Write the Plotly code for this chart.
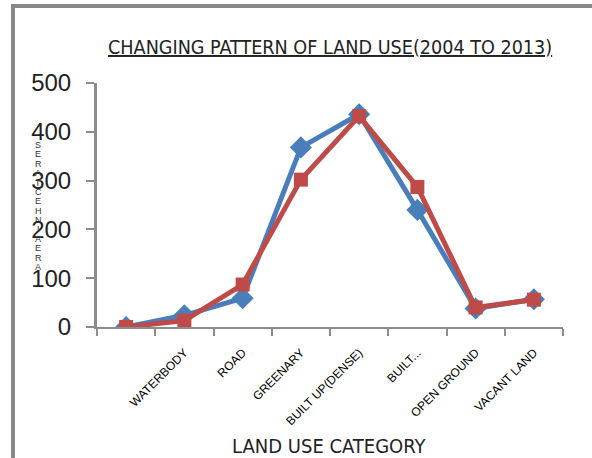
import plotly.graph_objects as go

# Land-use categories (first slot has no label)
categories = ["", "WATERBODY", "ROAD", "GREENARY", "BUILT UP(DENSE)",
              "BUILT...", "OPEN GROUND", "VACANT LAND"]
area_2004 = [0, 24, 59, 368, 436, 240, 38, 57]
area_2013 = [0, 13, 87, 302, 432, 287, 40, 56]
y_ticks = [0, 100, 200, 300, 400, 500]
y_title = "AREA IN HECTARES"

# Plot-area geometry in pixels (used to place paper-referenced decorations)
W, H = 592, 458
L, R, T, B = 97, 563, 83, 327


def px_x(x):
    return (x - L) / (R - L)


def px_y(y):
    return (B - y) / (B - T)


xs = list(range(len(categories)))
blue = "#4A7EBB"
red = "#BE4B48"
axis_grey = "#8C8C8C"
narrow = "Liberation Sans Narrow, DejaVu Sans Condensed, Arial Narrow, sans-serif"
sans = "Liberation Sans, Arial, sans-serif"

fig = go.Figure()
fig.add_trace(go.Scatter(
    x=xs, y=area_2004, mode="lines+markers", name="2004",
    line=dict(color=blue, width=5),
    marker=dict(symbol="diamond", size=17, color=blue),
))
fig.add_trace(go.Scatter(
    x=xs, y=area_2013, mode="lines+markers", name="2013",
    line=dict(color=red, width=5),
    marker=dict(symbol="square", size=14, color=red),
))

fig.update_layout(
    width=W, height=H,
    margin=dict(l=L, r=W - R, t=T, b=H - B),
    paper_bgcolor="white", plot_bgcolor="white",
    showlegend=False,
    xaxis=dict(
        range=[-0.5, len(categories) - 0.5],
        tickmode="array", tickvals=xs, ticktext=categories,
        tickangle=-45, ticks="", ticklabelstandoff=12,
        tickfont=dict(family=sans, size=12, color="#000"),
        showline=True, linecolor=axis_grey, linewidth=2,
        showgrid=False, zeroline=False,
        minor=dict(tickmode="array",
                   tickvals=[i - 0.5 for i in range(len(categories) + 1)],
                   ticks="outside", ticklen=7, tickwidth=2, tickcolor=axis_grey,
                   showgrid=False),
    ),
    yaxis=dict(
        range=[0, 500], tickmode="array", tickvals=y_ticks,
        ticks="outside", ticklen=8, tickwidth=2, tickcolor=axis_grey,
        ticklabelstandoff=10,
        tickfont=dict(family=sans, size=24, color="#222"),
        showline=True, linecolor=axis_grey, linewidth=3,
        showgrid=False, zeroline=False,
    ),
)

# Title (underlined)
fig.add_annotation(
    xref="paper", yref="paper", x=px_x(330), y=px_y(47),
    xanchor="center", yanchor="middle", showarrow=False,
    text="<u>CHANGING PATTERN OF LAND USE(2004 TO 2013)</u>",
    font=dict(family=narrow, size=19.6, color="#222"),
)

# X axis title
fig.add_annotation(
    xref="paper", yref="paper", x=px_x(329), y=px_y(446),
    xanchor="center", yanchor="middle", showarrow=False,
    text="LAND USE CATEGORY",
    font=dict(family=narrow, size=20, color="#222"),
)

# Y axis title, written as a column of letters
letters = [ch for ch in reversed(y_title) if ch != " "]
top, bottom = 145, 267
step = (bottom - top) / (len(letters) - 1)
for i, ch in enumerate(letters):
    fig.add_annotation(
        xref="paper", yref="paper", x=px_x(38), y=px_y(top + i * step),
        xanchor="center", yanchor="middle", showarrow=False,
        text=ch, font=dict(family=sans, size=9, color="#333"),
    )

# Outer chart frame
fig.add_shape(
    type="rect", xref="paper", yref="paper",
    x0=px_x(13), y0=px_y(470), x1=px_x(610), y1=px_y(6),
    line=dict(color="#888888", width=4), fillcolor="rgba(0,0,0,0)", layer="below",
)

fig.write_html("out.html")
